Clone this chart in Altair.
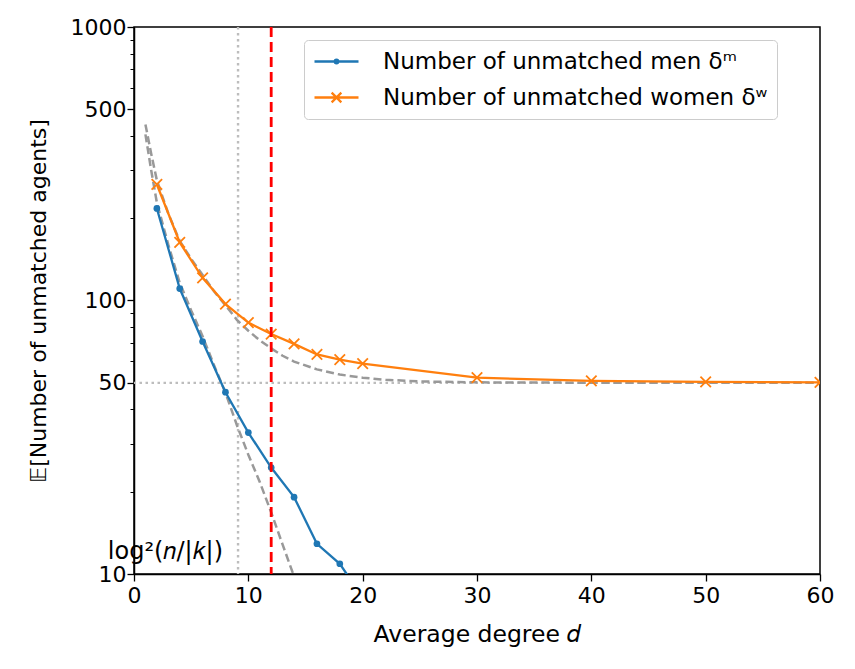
import altair as alt
import pandas as pd

# ---- data ----
d_men = [2, 4, 6, 8, 10, 12, 14, 16, 18, 20]
men = [217, 110.6, 70.8, 46.2, 32.9, 24.5, 19.1, 12.9, 10.9, 8.2]

d_women = [2, 4, 6, 8, 10, 12, 14, 16, 18, 20, 30, 40, 50, 60]
women = [265.6, 163, 121, 97, 83, 75.4, 69.4, 63.5, 60.8, 58.8, 52.2, 50.8, 50.4, 50.2]

theory_d_men = [1, 1.5, 2, 3, 4, 5, 6, 7, 8, 9, 10, 11, 12, 13, 14]
theory_men = [405, 300, 228, 160, 116, 92, 74, 58, 46, 35, 27.3, 21.7, 16.8, 12.8, 9.8]

theory_d_women = [1, 1.5, 2, 3, 4, 5, 6, 7, 8, 9, 10, 11, 12, 13, 14, 16, 18, 20, 22, 25, 30, 40, 60]
theory_women = [440, 345, 275, 208, 165, 142, 124, 108, 96, 85, 77.5, 71.5, 66.8, 62.8, 59.8,
                56, 53.6, 52.2, 51.3, 50.6, 50.2, 50.05, 50]

log2_nk = 9.1        # vertical dotted line
red_d = 12           # red dashed line
floor_w = 50         # horizontal dotted line

x_ticks = [0, 10, 20, 30, 40, 50, 60]
y_major = [10, 50, 100, 500, 1000]
y_minor = [20, 30, 40, 60, 70, 80, 90, 200, 300, 400, 600, 700, 800, 900]

series_labels = ["Number of unmatched men δᵐ", "Number of unmatched women δʷ"]

FONT = "DejaVu Sans"
FS = 22
BLUE = "#1f77b4"
ORANGE = "#ff7f0e"

df_men = pd.DataFrame({"d": d_men, "v": men, "series": series_labels[0]})
df_women = pd.DataFrame({"d": d_women, "v": women, "series": series_labels[1]})
df_tm = pd.DataFrame({"d": theory_d_men, "v": theory_men})
df_tw = pd.DataFrame({"d": theory_d_women, "v": theory_women})
df_all = pd.concat([df_men, df_women])

xs = alt.Scale(domain=[0, 60], nice=False, zero=False)
ys = alt.Scale(type="log", domain=[10, 1000], nice=False)

x_axis = alt.Axis(values=x_ticks, title="Average degree 𝑑", grid=False, tickSize=7,
                  tickColor="black", domainColor="black", labelColor="black",
                  titleColor="black", labelFontSize=FS, titleFontSize=23.5, labelFont=FONT,
                  titleFont=FONT, titleFontWeight="normal", labelPadding=4, titlePadding=16,
                  tickWidth=1.3, domainWidth=1.5, labelFlush=False)
y_axis_major = alt.Axis(values=y_major, format="d", title="𝔼[Number of unmatched agents]",
                        grid=False, tickSize=7, tickColor="black", domainColor="black",
                        labelColor="black", titleColor="black", labelFontSize=FS,
                        titleFontSize=FS, labelFont=FONT, titleFont=FONT,
                        titleFontWeight="normal", labelPadding=1, titlePadding=20,
                        tickWidth=1.3, domainWidth=1.5, orient="left", labelFlush=False)
y_axis_minor = alt.Axis(values=y_minor, labels=False, title=None, grid=False, tickSize=4,
                        tickColor="black", domain=False, tickWidth=1.0, orient="left")


def X(field="d"):
    return alt.X(field, type="quantitative", scale=xs, axis=x_axis)


def Y(field="v", axis=None):
    return alt.Y(field, type="quantitative", scale=ys, axis=axis)


hline = alt.Chart(pd.DataFrame({"v": [floor_w]})).mark_rule(
    color="#bdbdbd", strokeDash=[2.5, 3.5], strokeWidth=2.4
).encode(y=Y(axis=y_axis_minor))

vline = alt.Chart(pd.DataFrame({"d": [log2_nk]})).mark_rule(
    color="#bdbdbd", strokeDash=[2.5, 3.5], strokeWidth=2.4
).encode(x=X())

th_men = alt.Chart(df_tm).mark_line(color="#999999", strokeDash=[8, 4], strokeWidth=2.5,
                                    clip=True).encode(x=X(), y=Y())
th_women = alt.Chart(df_tw).mark_line(color="#999999", strokeDash=[8, 4], strokeWidth=2.5,
                                      clip=True).encode(x=X(), y=Y())

men_line = alt.Chart(df_men).mark_line(color=BLUE, strokeWidth=2.3, clip=True).encode(
    x=X(), y=Y(axis=y_axis_major))
men_pts = alt.Chart(df_men).mark_circle(color=BLUE, size=45, opacity=1, clip=True).encode(
    x=X(), y=Y())

women_line = alt.Chart(df_women).mark_line(color=ORANGE, strokeWidth=2.3, clip=True).encode(
    x=X(), y=Y())
women_pts = alt.Chart(df_women).mark_point(
    shape="M-1,-1L1,1M-1,1L1,-1", size=110, strokeWidth=1.8, color=ORANGE, filled=False,
    opacity=1, clip=True
).encode(x=X(), y=Y())

red = alt.Chart(pd.DataFrame({"d": [red_d]})).mark_rule(
    color="#ff0000", strokeDash=[10, 5], strokeWidth=2.8
).encode(x=X())

label = alt.Chart(pd.DataFrame({"d": [log2_nk], "v": [10], "t": ["log²(𝑛/|𝑘|)"]})).mark_text(
    align="right", baseline="alphabetic", dx=-15, dy=-15, fontSize=24, font=FONT, color="black"
).encode(x=X(), y=Y(), text="t:N")

legend_layer = alt.Chart(df_all).mark_point(filled=False, strokeWidth=2.2, opacity=1).encode(
    x=X(), y=Y(),
    size=alt.value(0),
    color=alt.Color("series:N", scale=alt.Scale(domain=series_labels, range=[BLUE, ORANGE]),
                    legend=alt.Legend(title=None, orient="none", legendX=170, legendY=13,
                                      labelFontSize=23, labelFont=FONT, labelColor="black",
                                      symbolSize=484, symbolStrokeWidth=2.3,
                                      labelOffset=45, rowPadding=11, padding=9,
                                      strokeColor="#cccccc", fillColor="white",
                                      cornerRadius=4, labelLimit=600)),
    shape=alt.Shape("series:N", scale=alt.Scale(
        domain=series_labels,
        range=["M-1,0H3M0.84,0A0.16,0.16 0 1 1 1.16,0A0.16,0.16 0 1 1 0.84,0Z",
               "M-1,0H3M0.56,-0.44L1.44,0.44M0.56,0.44L1.44,-0.44"]))
)

chart = alt.layer(
    hline, vline, th_men, th_women, men_line, men_pts, women_line, women_pts, red, label,
    legend_layer
).resolve_axis(y="independent").properties(
    width=686, height=547,
    autosize=alt.AutoSizeParams(type="none"),
    padding={"left": 126, "top": 19, "right": 20, "bottom": 80},
).configure(font=FONT).configure_view(stroke="black", strokeWidth=1.5)

chart.save("out.html", embed_options={"renderer": "svg", "actions": False})
